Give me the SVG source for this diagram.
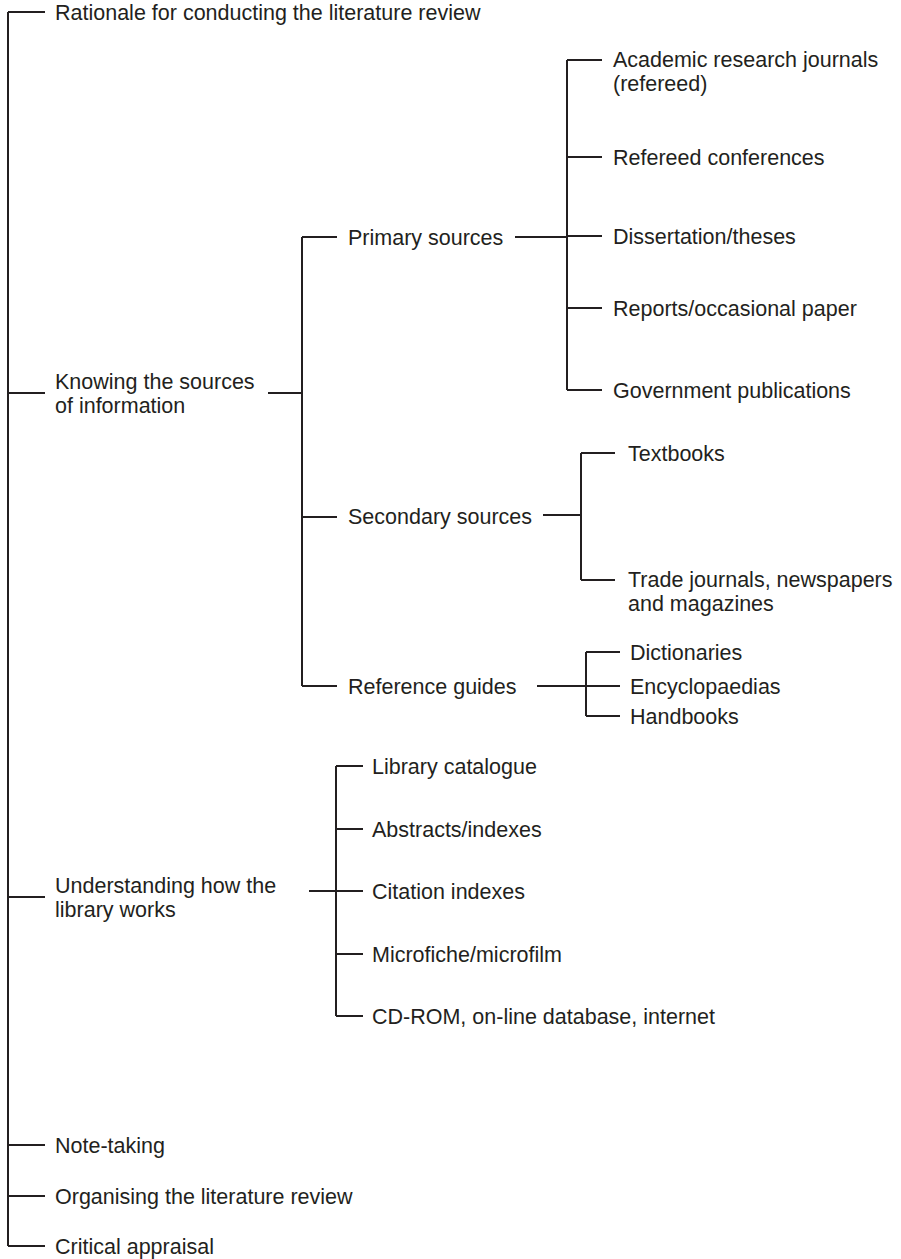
<svg xmlns="http://www.w3.org/2000/svg" width="901" height="1259" viewBox="0 0 901 1259">
<style>
text{font-family:"Liberation Sans",Arial,Helvetica,sans-serif;font-size:21.5px;fill:#231f20}
.c path{fill:none;stroke:#231f20;stroke-width:2}
</style>
<rect width="901" height="1259" fill="#fff"/>
<g class="c" id="connectors">
<path d="M8,12 V1246 M8,12 H45 M8,393 H45 M8,897 H45 M8,1145 H45 M8,1196 H45 M8,1246 H45"/>
<path d="M268,393 H302 M302,237 V686 M302,237 H337 M302,517 H337 M302,686 H337"/>
<path d="M515,237 H567 M567,60 V390 M567,60 H602 M567,157 H602 M567,236 H602 M567,308 H602 M567,390 H602"/>
<path d="M543,515 H581 M581,453 V580 M581,453 H615 M581,580 H615"/>
<path d="M537,686 H586 M586,652 V716 M586,652 H620 M586,686 H620 M586,716 H620"/>
<path d="M309,891 H336 M336,766 V1016 M336,766 H363 M336,829 H363 M336,891 H363 M336,954 H363 M336,1016 H363"/>
</g>
<g id="n-rationale"><text x="55" y="20">Rationale for conducting the literature review</text></g>
<g id="n-knowing"><text x="55" y="389">Knowing the sources</text><text x="55" y="413">of information</text></g>
<g id="n-understanding"><text x="55" y="893">Understanding how the</text><text x="55" y="917">library works</text></g>
<g id="n-note"><text x="55" y="1153">Note-taking</text></g>
<g id="n-organising"><text x="55" y="1204">Organising the literature review</text></g>
<g id="n-critical"><text x="55" y="1254">Critical appraisal</text></g>
<g id="n-primary"><text x="348" y="245">Primary sources</text></g>
<g id="n-secondary"><text x="348" y="524">Secondary sources</text></g>
<g id="n-reference"><text x="348" y="694">Reference guides</text></g>
<g id="n-academic"><text x="613" y="67">Academic research journals</text><text x="613" y="91">(refereed)</text></g>
<g id="n-refconf"><text x="613" y="165">Refereed conferences</text></g>
<g id="n-diss"><text x="613" y="244">Dissertation/theses</text></g>
<g id="n-reports"><text x="613" y="316">Reports/occasional paper</text></g>
<g id="n-gov"><text x="613" y="398">Government publications</text></g>
<g id="n-textbooks"><text x="628" y="461">Textbooks</text></g>
<g id="n-trade"><text x="628" y="587">Trade journals, newspapers</text><text x="628" y="611">and magazines</text></g>
<g id="n-dict"><text x="630" y="660">Dictionaries</text></g>
<g id="n-ency"><text x="630" y="694">Encyclopaedias</text></g>
<g id="n-hand"><text x="630" y="724">Handbooks</text></g>
<g id="n-library"><text x="372" y="774">Library catalogue</text></g>
<g id="n-abstracts"><text x="372" y="837">Abstracts/indexes</text></g>
<g id="n-citation"><text x="372" y="899">Citation indexes</text></g>
<g id="n-micro"><text x="372" y="962">Microfiche/microfilm</text></g>
<g id="n-cdrom"><text x="372" y="1024">CD-ROM, on-line database, internet</text></g>
</svg>
